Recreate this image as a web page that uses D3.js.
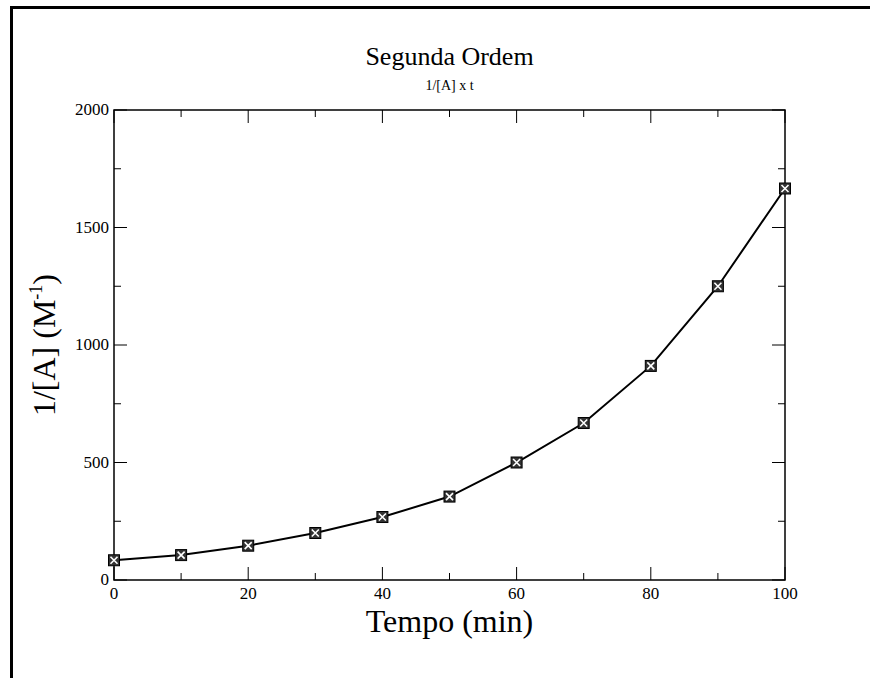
<!DOCTYPE html>
<html>
<head>
<meta charset="utf-8">
<title>Segunda Ordem</title>
<script src="https://d3js.org/d3.v7.min.js"></script>
<style>
    body { margin: 0; background: white; }
    text { font-family: "Liberation Serif", "DejaVu Serif", serif; fill: black; }
</style>
</head>
<body>
<div id="chart"></div>
<script>
// data
var tempo = [0, 10, 20, 30, 40, 50, 60, 70, 80, 90, 100];
var invA = [84, 106, 146, 200, 268, 355, 500, 668, 911, 1250, 1666];
var xTicks = [0, 20, 40, 60, 80, 100];
var yTicks = [0, 500, 1000, 1500, 2000];

var width = 870, height = 678;
// plot box edges (window.top is reserved, so use other names)
var pLeft = 114, pRight = 785, pTop = 110, pBottom = 580;

var svg = d3.select("#chart").append("svg")
    .attr("width", width)
    .attr("height", height);

// page frame (top and left edges only)
svg.append("line").attr("x1", 10).attr("x2", width).attr("y1", 7.5).attr("y2", 7.5)
    .attr("stroke", "black").attr("stroke-width", 3);
svg.append("line").attr("x1", 11.5).attr("x2", 11.5).attr("y1", 6).attr("y2", height)
    .attr("stroke", "black").attr("stroke-width", 3);

var x = d3.scaleLinear().domain([0, 100]).range([pLeft, pRight]);
var y = d3.scaleLinear().domain([0, 2000]).range([pBottom, pTop]);

// plot box
svg.append("rect")
    .attr("x", pLeft).attr("y", pTop)
    .attr("width", pRight - pLeft).attr("height", pBottom - pTop)
    .attr("fill", "none").attr("stroke", "black").attr("stroke-width", 1.5);

// ticks on all four sides, pointing inwards
var xMinor = d3.range(10, 100, 20);
var yMinor = d3.range(250, 2000, 500);
function tickLines(vals, len, horizontal) {
    vals.forEach(function(v) {
        if (horizontal) {
            var px = x(v);
            svg.append("line").attr("x1", px).attr("x2", px).attr("y1", pBottom).attr("y2", pBottom - len)
                .attr("stroke", "black");
            svg.append("line").attr("x1", px).attr("x2", px).attr("y1", pTop).attr("y2", pTop + len)
                .attr("stroke", "black");
        } else {
            var py = y(v);
            svg.append("line").attr("x1", pLeft).attr("x2", pLeft + len).attr("y1", py).attr("y2", py)
                .attr("stroke", "black");
            svg.append("line").attr("x1", pRight).attr("x2", pRight - len).attr("y1", py).attr("y2", py)
                .attr("stroke", "black");
        }
    });
}
tickLines(xTicks, 13, true);
tickLines(xMinor, 7, true);
tickLines(yTicks, 13, false);
tickLines(yMinor, 7, false);

// tick labels
svg.selectAll(".xl").data(xTicks).enter().append("text")
    .attr("x", function(d) { return x(d); })
    .attr("y", pBottom + 19)
    .attr("text-anchor", "middle")
    .style("font-size", "17px")
    .text(function(d) { return d; });

svg.selectAll(".yl").data(yTicks).enter().append("text")
    .attr("x", pLeft - 5)
    .attr("y", function(d) { return y(d) + 5; })
    .attr("text-anchor", "end")
    .style("font-size", "17px")
    .text(function(d) { return d; });

// titles
svg.append("text").attr("x", (pLeft + pRight) / 2).attr("y", 65)
    .attr("text-anchor", "middle").style("font-size", "26px").text("Segunda Ordem");
svg.append("text").attr("x", (pLeft + pRight) / 2).attr("y", 90)
    .attr("text-anchor", "middle").style("font-size", "14px").text("1/[A] x t");

// axis labels
svg.append("text").attr("x", (pLeft + pRight) / 2).attr("y", 632)
    .attr("text-anchor", "middle").style("font-size", "32px").text("Tempo (min)");

var yl = svg.append("text")
    .attr("transform", "translate(55," + (pTop + pBottom) / 2 + ") rotate(-90)")
    .attr("text-anchor", "middle")
    .style("font-size", "32px");
yl.append("tspan").text("1/[A] (M");
yl.append("tspan").attr("dy", -13).style("font-size", "18px").text("-1");
yl.append("tspan").attr("dy", 13).text(")");

// curve
var line = d3.line()
    .x(function(d, i) { return x(tempo[i]); })
    .y(function(d) { return y(d); });

svg.append("path")
    .datum(invA)
    .attr("d", line)
    .attr("fill", "none")
    .attr("stroke", "black")
    .attr("stroke-width", 2);

// markers: square with an X
var s = 5.5;
var m = svg.selectAll(".mark").data(invA).enter().append("g")
    .attr("transform", function(d, i) { return "translate(" + x(tempo[i]) + "," + y(d) + ")"; });
m.append("rect")
    .attr("x", -s).attr("y", -s).attr("width", 2 * s).attr("height", 2 * s)
    .attr("fill", "#333").attr("stroke", "black").attr("stroke-width", 1);
m.append("path")
    .attr("d", "M" + (-s + 2) + "," + (-s + 2) + "L" + (s - 2) + "," + (s - 2) +
        "M" + (s - 2) + "," + (-s + 2) + "L" + (-s + 2) + "," + (s - 2))
    .attr("stroke", "white").attr("stroke-width", 1.6);
</script>
</body>
</html>
